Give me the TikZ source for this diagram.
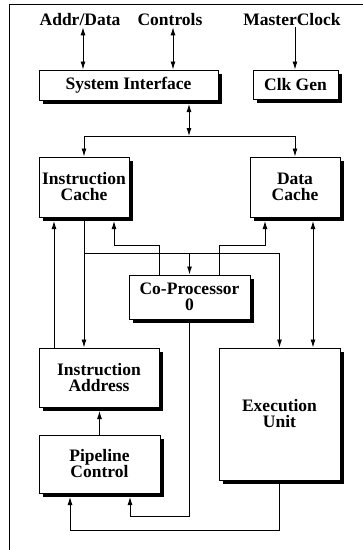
\documentclass[tikz,border=0pt]{standalone}
\usepackage{fontspec}
\setmainfont{Liberation Serif}
\usetikzlibrary{arrows.meta,shadows}
\begin{document}
\begin{tikzpicture}[x=1pt,y=-1pt,
  txt/.style={font=\bfseries\fontsize{17.5}{16}\selectfont},
  blk/.style={txt, draw, line width=1pt, fill=white, align=center,
    inner sep=0pt,
    drop shadow={shadow xshift=3.5pt, shadow yshift=-3.5pt,
      fill=black, opacity=1}},
  lbl/.style={txt, inner sep=1pt},
  wire/.style={line width=0.9pt},
  arr/.style={wire, -{Latex[length=8pt,width=5pt]}},
  darr/.style={wire, {Latex[length=8pt,width=5pt]}-{Latex[length=8pt,width=5pt]}},
  lift/.style={shorten >=3.5pt}]
\useasboundingbox (0,0) rectangle (363,550);

% frame
\draw[line width=1pt] (9,552) -- (9,4) -- (364,4);

% blocks
\node[blk, minimum width=179pt, minimum height=30pt] (si) at (128.5,85) {System Interface};
\node[blk, minimum width=85pt, minimum height=29pt] (cg) at (295.5,84.5) {Clk Gen};
\node[blk, minimum width=90pt, minimum height=60pt] (ic) at (84,187) {Instruction\\Cache};
\node[blk, minimum width=90pt, minimum height=60pt] (dc) at (295,187) {Data\\Cache};
\node[blk, minimum width=121pt, minimum height=44pt] (cp) at (189.5,297) {Co-Processor\\0};
\node[blk, minimum width=120pt, minimum height=59pt] (ia) at (99,377.5) {Instruction\\Address};
\node[blk, minimum width=121pt, minimum height=132pt] (eu) at (279.5,414) {Execution\\Unit};
\node[blk, minimum width=121pt, minimum height=58pt] (pc) at (99.5,464) {Pipeline\\Control};

% external signals
\node[lbl] (addr) at (80,20) {Addr/Data};
\node[lbl] (ctl) at (170,20) {Controls};
\node[lbl] (mclk) at (292,20) {MasterClock};

% guide positions for the vertical runs
\coordinate (xAddr) at (83,0);
\coordinate (xCtl) at (173,0);
\coordinate (xClk) at (295,0);
\coordinate (x54) at (54,0);
\coordinate (x159) at (159,0);
\coordinate (x219) at (219,0);
\coordinate (x313) at (313,0);
\coordinate (bus) at (189,136);
\coordinate (j1) at (84,253);
\coordinate (k1) at (114,245);
\coordinate (k2) at (265,245);
\coordinate (m1) at (130,516);
\coordinate (m2) at (70,530);

% pins into the system interface and clock generator
\draw[darr] (addr.south -| xAddr) -- (si.north -| xAddr);
\draw[darr] (ctl.south -| xCtl) -- (si.north -| xCtl);
\draw[arr] (mclk.south -| xClk) -- (cg.north -| xClk);

% system bus to the caches
\draw[darr, shorten <=3.5pt] (si.south -| bus) -- (bus);
\draw[arr] (bus) -| (ic.north);
\draw[arr] (bus) -| (dc.north);

% instruction cache outputs
\draw[arr] (ic.south) -- (ia.north -| ic.south);
\draw[arr] (j1) -| (eu.north);
\draw[arr] (j1 -| cp.north) -- (cp.north);

% instruction address back into the cache
\draw[arr, lift] (ia.north -| x54) -- (ic.south -| x54);

% co-processor to the caches
\draw[arr, lift] (cp.north -| x159) |- (k1) -- (ic.south -| k1);
\draw[arr, lift] (cp.north -| x219) |- (k2) -- (dc.south -| k2);

% data cache and execution unit
\draw[darr, shorten <=3.5pt] (dc.south -| x313) -- (eu.north -| x313);

% pipeline control paths
\draw[arr, lift] (pc.north) -- (ia.south -| pc.north);
\draw[arr, lift] (cp.south) |- (m1) -- (pc.south -| m1);
\draw[arr, lift] (eu.south) |- (m2) -- (pc.south -| m2);
\end{tikzpicture}
\end{document}
